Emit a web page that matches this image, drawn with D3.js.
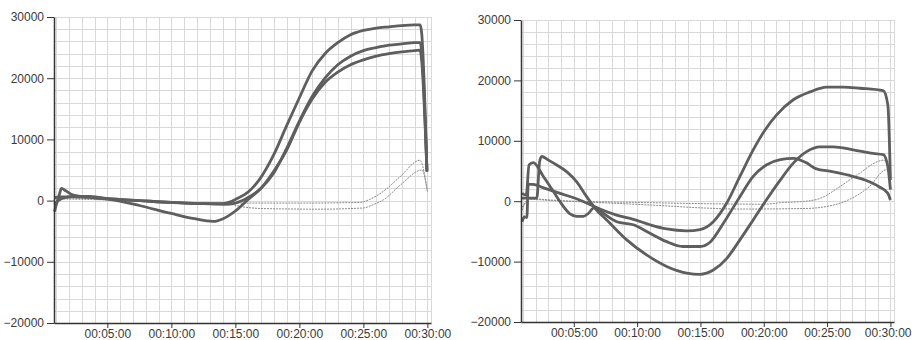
<!DOCTYPE html>
<html lang="en">
	<head>
		<meta charset="utf-8">
		<title>Sensor traces</title>
		<script type="text/javascript" src="https://cdn.jsdelivr.net/npm/d3@7"></script>
		<style type="text/css">
			body { margin:0; background:#fff; }
			.tick text { font-family:"Liberation Sans", Arial, sans-serif; font-size:12px; fill:#3a3a3a; }
		</style>
	</head>
	<body>
		<script type="text/javascript">
	// time in seconds, value in raw units
	var yTicks = [-20000, -10000, 0, 10000, 20000, 30000];
	var xTicks = [300, 600, 900, 1200, 1500, 1800];
	var xTickLabels = ["00:05:00", "00:10:00", "00:15:00", "00:20:00", "00:25:00", "00:30:00"];

	// left chart, thick lines
	var leftA = [[52,500],[80,600],[150,600],[300,300],[450,0],[600,-300],[750,-500],[840,-500],[876,-200],[900,200],[960,1400],[1020,3800],[1080,7500],[1140,12200],[1200,16800],[1260,21200],[1320,24000],[1380,25800],[1440,27100],[1500,27800],[1560,28200],[1620,28400],[1680,28600],[1740,28700],[1766,28700],[1773,27500],[1798,5000]];
	var leftB = [[52,-1800],[75,1000],[85,2000],[105,1600],[140,900],[200,600],[300,300],[450,0],[600,-300],[750,-500],[850,-600],[900,-400],[960,500],[1020,2000],[1080,4500],[1140,8500],[1200,13000],[1260,17000],[1320,20000],[1380,22200],[1440,23600],[1500,24500],[1560,25000],[1620,25400],[1680,25600],[1740,25800],[1766,25800],[1773,24500],[1798,4800]];
	var leftC = [[52,-600],[70,0],[100,500],[150,700],[220,700],[300,300],[450,-800],[600,-2100],[700,-2900],[797,-3400],[840,-3000],[900,-1700],[960,200],[1020,2000],[1080,4800],[1140,8200],[1200,12800],[1260,16600],[1320,19300],[1380,21000],[1440,22200],[1500,23000],[1560,23600],[1620,24000],[1680,24300],[1740,24500],[1766,24600],[1773,23000],[1798,4700]];
	// left chart, dotted lines
	var leftP = [[52,500],[150,400],[300,200],[600,-200],[900,-400],[1200,-400],[1484,-300],[1530,200],[1593,1500],[1672,3900],[1765,6600],[1800,1500]];
	var leftQ = [[52,300],[300,100],[600,-300],[850,-500],[950,-1100],[1030,-1300],[1300,-1400],[1500,-1200],[1550,-600],[1593,100],[1672,2500],[1775,5000],[1800,1500]];

	// right chart, thick lines
	var rightD = [[55,-3400],[66,-2600],[78,-2700],[84,2800],[108,2800],[150,2300],[235,1300],[313,400],[393,-800],[424,-1300],[503,-2300],[582,-3000],[661,-3900],[740,-4600],[835,-4900],[898,-4700],[961,-3400],[1024,-350],[1087,4100],[1150,8500],[1206,11800],[1261,14300],[1340,16800],[1419,18100],[1498,18900],[1577,18900],[1656,18700],[1766,18300],[1788,15900],[1800,3500]];
	var rightE = [[55,1300],[75,1000],[88,6000],[108,6400],[156,4100],[200,1800],[235,-100],[282,-2100],[314,-2500],[345,-2500],[370,-2000],[395,-1100],[430,-1800],[503,-3400],[582,-3900],[661,-5300],[740,-6700],[816,-7500],[898,-7500],[948,-6700],[1008,-3700],[1087,750],[1150,4100],[1212,6000],[1278,6900],[1340,7100],[1400,6400],[1446,5400],[1524,4900],[1602,4300],[1680,3500],[1746,2400],[1788,1300],[1800,200]];
	var rightF = [[55,500],[125,500],[138,6500],[148,7400],[180,6800],[219,6000],[266,4900],[314,3200],[361,750],[409,-1500],[456,-3100],[551,-6400],[645,-8900],[740,-10800],[835,-11900],[898,-12100],[961,-11400],[1024,-9500],[1087,-6400],[1150,-3100],[1212,200],[1278,3500],[1340,6300],[1403,8200],[1466,9000],[1529,9000],[1624,8500],[1718,7900],[1766,7700],[1788,5700],[1800,1900]];
	// right chart, dotted lines
	var rightP = [[55,-1500],[90,500],[150,300],[300,0],[600,-200],[900,-400],[1200,-500],[1280,-250],[1400,0],[1470,500],[1560,2400],[1640,4300],[1770,6800],[1800,4000]];
	var rightQ = [[55,-1000],[90,300],[200,100],[400,-200],[700,-700],[900,-1100],[1100,-1300],[1400,-1200],[1495,-900],[1600,200],[1700,2400],[1780,5200],[1800,4000]];

	var w = 912;
	var h = 340;

	var svg = d3.select("body")
				.append("svg")
				.attr("width", w)
				.attr("height", h);

	function drawChart(x0, x1, y0, y1, thick, dotted) {
		var x = d3.scaleLinear().domain([50, 1817]).range([x0, x1]);
		var y = d3.scaleLinear().domain([-20000, 30000]).range([y1, y0]);

		var g = svg.append("g");

		// grid: one line per minute, one per 2000
		g.selectAll("line.vgrid")
			.data(d3.range(60, 1817, 60))
			.enter()
			.append("line")
			.attr("x1", function(d) { return Math.round(x(d)) + 0.5; })
			.attr("x2", function(d) { return Math.round(x(d)) + 0.5; })
			.attr("y1", y0)
			.attr("y2", y1)
			.style("stroke", "#d9d9d9")
			.style("stroke-width", 1);

		g.selectAll("line.hgrid")
			.data(d3.range(-20000, 30001, 2000))
			.enter()
			.append("line")
			.attr("x1", x0)
			.attr("x2", x1)
			.attr("y1", function(d) { return Math.round(y(d)) + 0.5; })
			.attr("y2", function(d) { return Math.round(y(d)) + 0.5; })
			.style("stroke", "#d9d9d9")
			.style("stroke-width", 1);

		g.append("line")
			.attr("x1", x1 + 0.5).attr("x2", x1 + 0.5)
			.attr("y1", y0).attr("y2", y1)
			.style("stroke", "#d9d9d9");

		var line = d3.line()
			.x(function(d) { return x(d[0]); })
			.y(function(d) { return y(d[1]); })
			.curve(d3.curveMonotoneX);

		dotted.forEach(function(s) {
			g.append("path")
				.attr("d", line(s))
				.style("fill", "none")
				.style("stroke", "#8a8a8a")
				.style("stroke-width", 1)
				.style("stroke-dasharray", "2,1");
		});

		thick.forEach(function(s) {
			g.append("path")
				.attr("d", line(s))
				.style("fill", "none")
				.style("stroke", "#5e5e5e")
				.style("stroke-width", 2.8)
				.style("stroke-linejoin", "round");
		});

		var yAxis = d3.axisLeft(y)
			.tickValues(yTicks)
			.tickSize(7)
			.tickSizeOuter(0)
			.tickPadding(3)
			.tickFormat(d3.format("d"));

		var xAxis = d3.axisBottom(x)
			.tickValues(xTicks)
			.tickSize(5)
			.tickSizeOuter(0)
			.tickPadding(1)
			.tickFormat(function(d, i) { return xTickLabels[i]; });

		var ya = g.append("g")
			.attr("transform", "translate(" + x0 + ",0)")
			.call(yAxis);
		var xa = g.append("g")
			.attr("transform", "translate(0," + y1 + ")")
			.call(xAxis);

		[ya, xa].forEach(function(a) {
			a.select(".domain").style("stroke", "#333").style("stroke-width", 1.5);
			a.selectAll(".tick line").style("stroke", "#333");
			a.attr("font-family", null).attr("font-size", null);
		});

		// keep the last label inside the page
		xa.selectAll(".tick text")
			.filter(function(d) { return x(d) + 24 > w; })
			.attr("text-anchor", "end")
			.attr("x", function(d) { return w - 1 - x(d); });
	}

	drawChart(54, 431, 17, 323, [leftA, leftB, leftC], [leftP, leftQ]);
	drawChart(521, 894, 20, 322, [rightD, rightE, rightF], [rightP, rightQ]);

		</script>
	</body>
</html>
